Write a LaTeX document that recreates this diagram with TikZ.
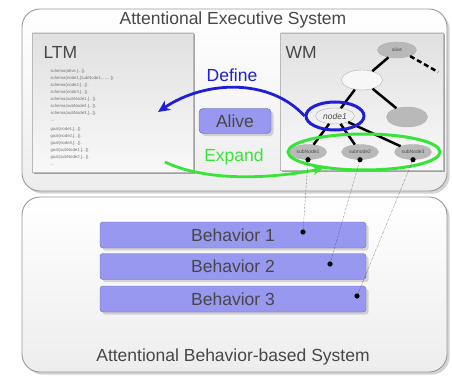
\documentclass[tikz,border=0pt]{standalone}
\usepackage{fontspec}
\setmainfont{Liberation Sans}
\usetikzlibrary{arrows.meta, positioning, calc, shapes, shadows}
\definecolor{behfill}{RGB}{152,152,240}
\definecolor{defblue}{RGB}{30,30,215}
\definecolor{expgreen}{RGB}{55,228,55}
\newcommand{\diagfont}{\fontsize{17.5}{20}\selectfont}

\begin{document}
\begin{tikzpicture}[x=1pt, y=-1pt,
        panel/.style={draw=gray!80, rounded corners=18pt, top color=white, bottom color=gray!14,
            line width=0.9pt, minimum width=425pt, drop shadow={opacity=0.35}},
        memory/.style={draw=gray!55, top color=gray!24, bottom color=gray!5, line width=0.8pt,
            drop shadow={shadow xshift=1.5pt, shadow yshift=-1.5pt, opacity=0.7}},
        behbox/.style={draw=behfill!70!black, fill=behfill, rounded corners=3pt, minimum width=266pt,
            minimum height=26pt, font=\diagfont, text=black!72, drop shadow={opacity=0.3}},
        wmnode/.style={ellipse, draw=gray!60, fill=gray!55, minimum width=39pt, minimum height=16pt,
            inner sep=0pt, font=\fontsize{5}{6}\selectfont, text=black!70},
        link/.style={line width=2.5pt, black}]
    \useasboundingbox (0,0) rectangle (452,377);

    % the two systems
    \node[panel, minimum height=182pt] (exec) at (234.5,100) {};
    \node[panel, minimum height=175pt] (behsys) at (234.5,284.5) {};
    \node[font=\diagfont, text=black!72] (execTitle) at (233,20) {Attentional Executive System};
    \node[font=\diagfont, text=black!72] (behTitle) at (233,357) {Attentional Behavior-based System};

    % long term memory
    \node[memory, minimum width=161pt, minimum height=139pt] (ltm) at (112.5,102.5) {};
    \node[font=\diagfont, text=black!72, anchor=west] (ltmTitle) at (40,52) {LTM};
    \node[anchor=north west, align=left, text=black!55, font=\fontsize{4.3}{7}\selectfont] (ltmText) at (47,66)
        {schema(alive,[...]).\\ schema(node1,[subNode1,...,...]).\\ schema(node2,[...]).\\
         schema(node3,[...]).\\ schema(subNode1,[...]).\\ schema(subNode2,[...]).\\
         schema(subNode3,[...]).\\ ...\\[2pt] goal(node1,[...]).\\ goal(node2,[...]).\\
         goal(node3,[...]).\\ goal(subNode1,[...]).\\ goal(subNode2,[...]).\\ ...};

    % working memory
    \node[memory, minimum width=163pt, minimum height=137pt] (wm) at (362,101.5) {};
    \node[font=\diagfont, text=black!72, anchor=west] (wmTitle) at (282,52) {WM};

    \node[wmnode] (alive) at (397,50) {alive};
    \node[wmnode, fill=gray!6, minimum width=41pt, minimum height=20pt] (blank) at (362,80) {};
    \node[wmnode, fill=gray!12, font=\fontsize{8.5}{9}\selectfont\itshape] (node1) at (335,116) {node1};
    \node[wmnode, minimum width=41pt, minimum height=20pt] (rightNode) at (407,117) {};
    \node[wmnode, minimum width=37pt, minimum height=15pt] (sub1) at (308,152) {subNode1};
    \node[wmnode, minimum width=37pt, minimum height=15pt] (sub2) at (360,152) {subnode2};
    \node[wmnode, minimum width=37pt, minimum height=15pt] (sub3) at (413,152) {subNode3};
    \coordinate (more) at (438,72);

    \draw[link] (alive) -- (blank);
    \draw[link] (blank) -- (node1);
    \draw[link] (blank) -- (rightNode);
    \draw[link] (node1) -- (sub1);
    \draw[link] (node1) -- (sub2);
    \draw[link] (node1) -- (sub3);
    \draw[link, dash pattern=on 5pt off 3pt] (alive.-25) -- (more);

    % rings round the selected nodes
    \node[ellipse, draw=defblue, line width=3pt, minimum width=58pt, minimum height=28pt] (defRing) at (node1) {};
    \node[ellipse, draw=expgreen, line width=3pt, minimum width=152pt, minimum height=36pt] (expRing) at (364,152) {};

    % alive and the two operations
    \node[draw=behfill!70!black, fill=behfill, rounded corners=4pt, minimum width=72pt, minimum height=25pt,
        font=\diagfont, text=black!72, drop shadow={opacity=0.3}] (aliveBox) at (235,121) {Alive};
    \node[font=\diagfont, text=defblue] (defLabel) at (232,75) {Define};
    \node[font=\diagfont, text=expgreen] (expLabel) at (234,157) {Expand};

    \coordinate (defTip) at (158,112);
    \coordinate (expStart) at (165,162);
    \draw[defblue, line width=2.8pt, -{Stealth[length=12pt, width=11pt]}]
        (defRing.west) .. controls (270,78) and (205,80) .. (defTip);
    \draw[expgreen, line width=2.8pt, -{Stealth[length=10pt, width=9pt]}]
        (expStart) .. controls (200,179) and (258,181) .. (expRing.202);

    % behaviors
    \node[behbox] (beh1) at (233,235) {Behavior 1};
    \node[behbox] (beh2) at (233,266.5) {Behavior 2};
    \node[behbox] (beh3) at (233,299) {Behavior 3};
    \coordinate (dot1) at (303,232);
    \coordinate (dot2) at (330,264);
    \coordinate (dot3) at (357,296);

    % links from the sub nodes to the behaviors
    \draw[densely dotted, thin, black!80] (sub1.south) -- (dot1);
    \draw[densely dotted, thin, black!80] (sub2.south) -- (dot2);
    \draw[densely dotted, thin, black!80] (sub3.south) -- (dot3);
    \foreach \p in {sub1.south, sub2.south, sub3.south, dot1, dot2, dot3}
        \fill (\p) circle (2.6pt);
\end{tikzpicture}
\end{document}
